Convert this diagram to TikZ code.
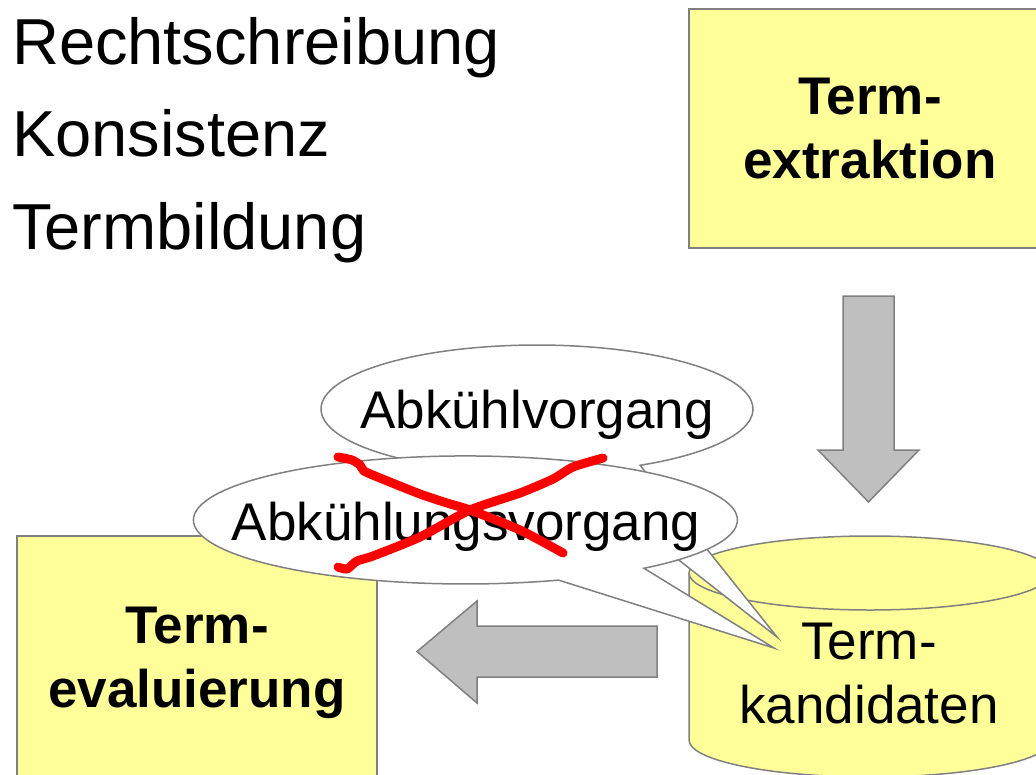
\documentclass[tikz,border=0pt]{standalone}
\usepackage{fontspec}
\setmainfont{Liberation Sans}
\usetikzlibrary{arrows.meta}

\definecolor{termgelb}{RGB}{255,255,153}
\definecolor{termrand}{RGB}{128,128,128}
\definecolor{termpfeil}{RGB}{191,191,191}

\tikzset{
  liste/.style={font=\fontsize{65}{78}\selectfont, anchor=base west, inner sep=0pt},
  kasten/.style={draw=termrand, line width=1.5pt, fill=termgelb, align=center,
                 inner sep=0pt, font=\fontsize{53}{64}\selectfont\bfseries},
  normaltext/.style={align=center, inner sep=0pt, font=\fontsize{53}{64}\selectfont},
  blockpfeil/.style={draw=termrand, line width=1.5pt, fill=termpfeil, line join=miter},
  sprechblase/.style={draw=termrand, line width=1.5pt, fill=white},
  kreuz/.style={draw=red, line width=9pt, line cap=round, line join=round}
}

\begin{document}
\begin{tikzpicture}[x=1pt, y=-1pt]
 \useasboundingbox (0,0) rectangle (1036,774);
 \clip (0,0) rectangle (1036,774);

 % Kriterien
 \node[liste] (rs) at (12,64) {Rechtschreibung};
 \node[liste] (ks) at (12,156) {Konsistenz};
 \node[liste] (tb) at (12,249) {Termbildung};

 % Extraktion
 \node[kasten, minimum width=362, minimum height=239] (extr) at (870,128.5)
   {Term-\\extraktion};

 \draw[blockpfeil] (843,296) -- (894,296) -- (894,450) -- (919,450) -- (868.5,502)
   -- (818,450) -- (843,450) -- cycle;

 % Kandidaten (Zylinder)
 \filldraw[draw=termrand, line width=1.5pt, fill=termgelb]
   (689,573) -- (689,740) arc[start angle=180, end angle=0, x radius=181, y radius=37]
   -- (1051,573) arc[start angle=360, end angle=180, x radius=181, y radius=37] -- cycle;
 \draw[termrand, line width=1.5pt]
   (689,573) arc[start angle=180, end angle=0, x radius=181, y radius=37];
 \node[normaltext] (kand) at (869,674) {Term-\\kandidaten};

 \draw[blockpfeil] (657,626) -- (657,677) -- (477,677) -- (477,703) -- (417,651.5)
   -- (477,601) -- (477,626) -- cycle;

 % Evaluierung
 \node[kasten, minimum width=360, minimum height=253] (eval) at (197,662.5)
   {Term-\\evaluierung};

 % Sprechblasen
 \filldraw[sprechblase] (567.1,472.4)
   arc[start angle=82, end angle=421.5, x radius=216, y radius=64]
   -- (777,637) -- cycle;
 \node[normaltext, anchor=base] (kurz) at (537,428) {Abkühlvorgang};

 \filldraw[sprechblase] (558.5,580.1)
   arc[start angle=70, end angle=409, x radius=272, y radius=64]
   -- (774,648) -- cycle;
 \node[normaltext, anchor=base] (lang) at (466,540) {Abkühlungsvorgang};

 % durchgestrichen
 \draw[kreuz] plot[smooth, tension=0.4] coordinates {(338,457) (352,460) (360,465)
   (364,471) (380,478) (420,494) (447,503) (470,510) (520,530) (563,553)};
 \draw[kreuz] plot[smooth, tension=0.4] coordinates {(338,567) (347,569) (357,561)
   (373,556) (420,537) (470,510) (520,493) (553,479) (573,467) (603,458)};
\end{tikzpicture}
\end{document}
